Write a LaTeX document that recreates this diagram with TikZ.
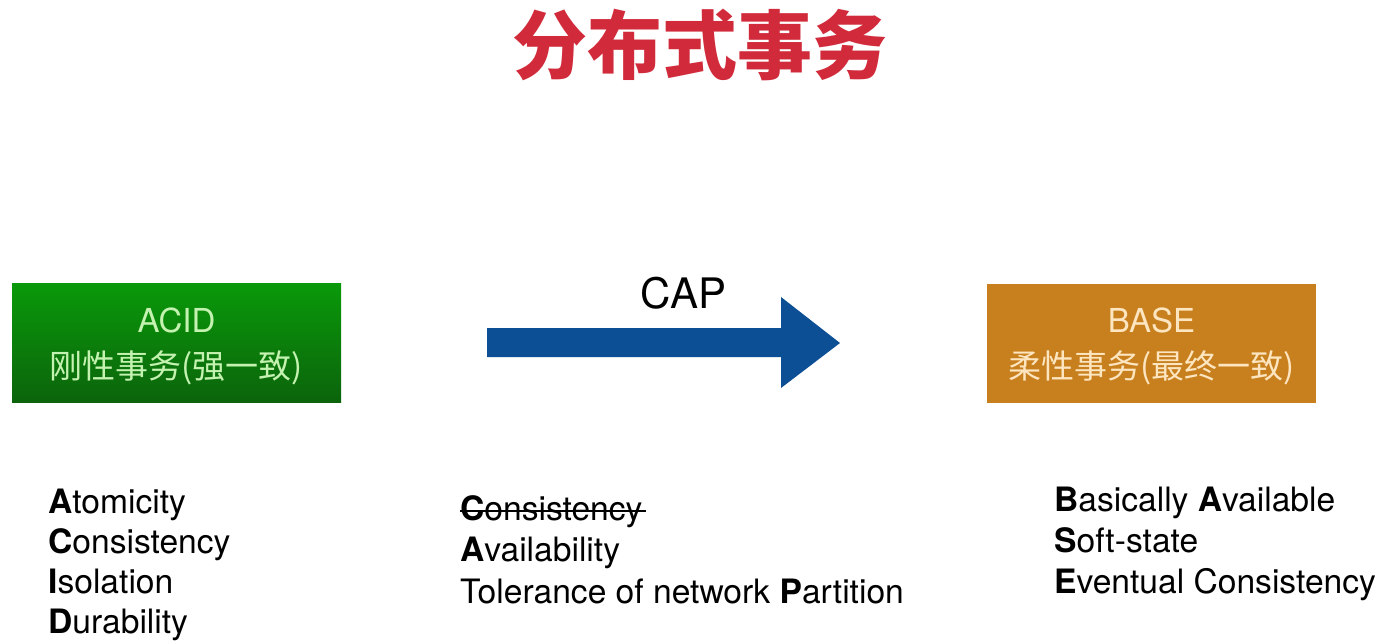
\documentclass[tikz,border=0pt]{standalone}
\usepackage{fontspec}
\setmainfont{TeX Gyre Heros}
\newfontfamily\cjk{Noto Sans CJK SC}
\usetikzlibrary{calc}

\definecolor{titlered}{HTML}{D12B3B}
\definecolor{acidtop}{HTML}{0A990A}
\definecolor{acidbot}{HTML}{0B640B}
\definecolor{acidtext}{HTML}{C4F2B0}
\definecolor{baseorange}{HTML}{C8801F}
\definecolor{basetext}{HTML}{FCE5BF}
\definecolor{capblue}{HTML}{0D4F95}

\tikzset{
  box/.style={draw=none, inner sep=0, minimum width=329pt, minimum height=119pt},
  boxlatin/.style={anchor=base, inner sep=0, font=\fontsize{33}{38}\selectfont},
  boxcjk/.style={anchor=base, inner sep=0, font=\fontsize{33}{38}\selectfont\cjk},
  listline/.style={anchor=base west, inner sep=0, text=black, font=\fontsize{33.6}{41}\selectfont},
}

\begin{document}
\begin{tikzpicture}[x=1pt,y=-1pt]
\useasboundingbox[fill=white] (0,0) rectangle (1387,641);

% title
\node[inner sep=0, text=titlered, font=\fontsize{75}{80}\selectfont\cjk\bfseries] (title) at (700,45) {分布式事务};

% ACID box
\node[box, top color=acidtop, bottom color=acidbot] (acid) at (176.5,343) {};
\node[boxlatin, text=acidtext] (acidname) at (176.5,332) {ACID};
\node[boxcjk, text=acidtext] (acidcn) at (176.5,378) {刚性事务(强一致)};

% BASE box
\node[box, fill=baseorange] (base) at (1151.5,343) {};
\node[boxlatin, text=basetext] (basename) at (1151.5,332) {BASE};
\node[boxcjk, text=basetext] (basecn) at (1151.5,378) {柔性事务(最终一致)};

% CAP arrow
\fill[capblue] (487,328) -- (781,328) -- (781,297) -- (840,343) -- (781,388) -- (781,357) -- (487,357) -- cycle;
\node[anchor=base, inner sep=0, font=\fontsize{42}{48}\selectfont] (cap) at (683.5,308) {CAP};

% ACID properties
\node[listline] (a1) at (48,513) {\textbf{A}tomicity};
\node[listline] (a2) at (48,553) {\textbf{C}onsistency};
\node[listline] (a3) at (48,593) {\textbf{I}solation};
\node[listline] (a4) at (48,633) {\textbf{D}urability};

% CAP properties
\node[listline] (c1) at (460,520) {\textbf{C}onsistency};
\node[listline] (c2) at (460,561.5) {\textbf{A}vailability};
\node[listline] (c3) at (460,603) {Tolerance of network \textbf{P}artition};
\draw[line width=2pt] ($(c1.base west)+(0,-9)$) -- ($(c1.base east)+(3,-9)$);

% BASE properties
\node[listline] (b1) at (1054,511) {\textbf{B}asically \textbf{A}vailable};
\node[listline] (b2) at (1054,552) {\textbf{S}oft-state};
\node[listline] (b3) at (1054,593) {\textbf{E}ventual Consistency};
\end{tikzpicture}
\end{document}
